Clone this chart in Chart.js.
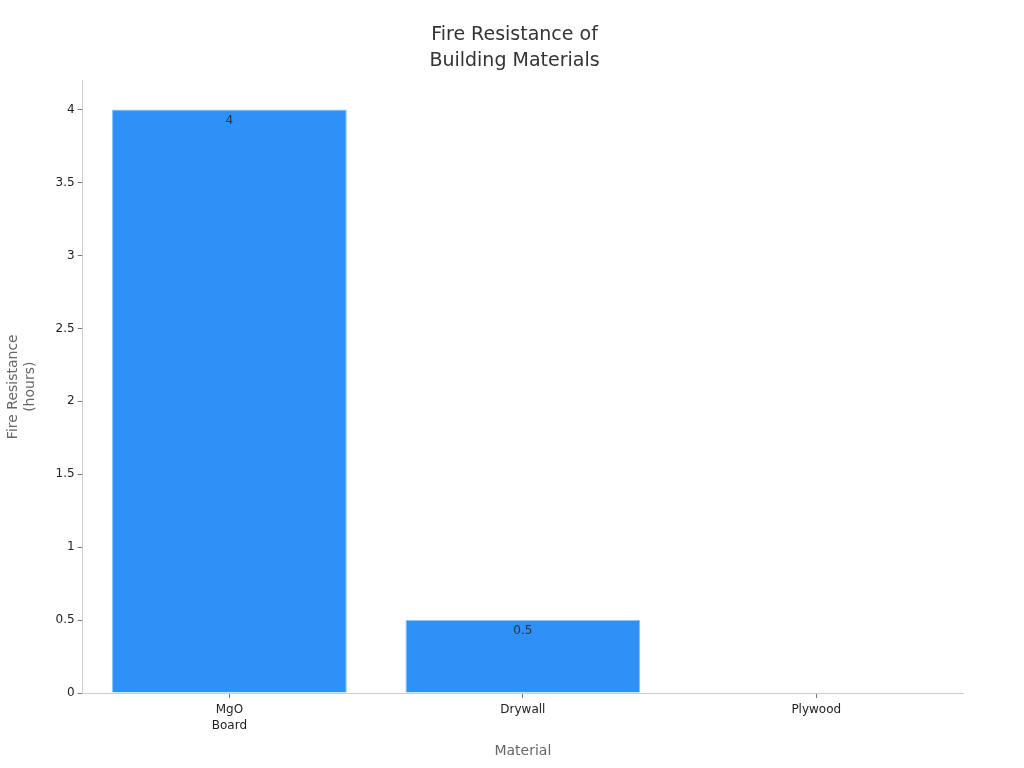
<!DOCTYPE html>
<html>
<head>
<meta charset="utf-8">
<script src="https://cdn.jsdelivr.net/npm/chart.js@4.4.1/dist/chart.umd.min.js"></script>
<style>
  html, body { margin: 0; padding: 0; background: #fff; }
  #wrap { width: 1024px; height: 768px; }
</style>
</head>
<body>
<div id="wrap"><canvas id="fireChart" width="1024" height="768"></canvas></div>
<script>
// chart data
const materials = [["MgO", "Board"], "Drywall", "Plywood"];
const fireHours = [4, 0.5, 0];
const yTicks = [0, 0.5, 1, 1.5, 2, 2.5, 3, 3.5, 4];

// value labels just under the top of each bar (skip empty bars)
const barLabels = {
  id: 'barLabels',
  afterDatasetsDraw(chart) {
    const ctx = chart.ctx;
    const meta = chart.getDatasetMeta(0);
    ctx.save();
    ctx.font = '12px "DejaVu Sans"';
    ctx.fillStyle = '#333';
    ctx.textAlign = 'center';
    ctx.textBaseline = 'top';
    meta.data.forEach((bar, i) => {
      const v = fireHours[i];
      if (!v) return;
      ctx.fillText(String(v), bar.x, bar.y + 5);
    });
    ctx.restore();
  }
};

const ctx = document.getElementById('fireChart').getContext('2d');
new Chart(ctx, {
  type: 'bar',
  data: {
    labels: materials,
    datasets: [{
      label: 'Fire Resistance (hours)',
      data: fireHours,
      backgroundColor: '#2e91f8',
      borderColor: '#8cc4fb',
      borderWidth: 1,
      barPercentage: 0.8,
      categoryPercentage: 1
    }]
  },
  options: {
    responsive: false,
    animation: false,
    layout: { padding: { top: 12, right: 0, bottom: 8, left: 5 } },
    plugins: {
      legend: { display: false },
      tooltip: { enabled: false },
      title: {
        display: true,
        text: ['Fire Resistance of', 'Building Materials'],
        color: '#333',
        font: { family: 'DejaVu Sans', size: 19, weight: 'normal', lineHeight: 1.38 },
        padding: { top: 10, bottom: 6 }
      }
    },
    scales: {
      x: {
        border: { color: '#ccc' },
        grid: { display: true, drawOnChartArea: false, offset: false, color: '#777', tickLength: 5 },
        ticks: { color: '#222', font: { family: 'DejaVu Sans', size: 12, lineHeight: 1.3 }, padding: 4 },
        title: {
          display: true,
          text: 'Material',
          color: '#666',
          font: { family: 'DejaVu Sans', size: 14 },
          padding: { top: 6, bottom: 0 }
        }
      },
      y: {
        min: 0,
        max: 4.2,
        border: { color: '#ccc' },
        grid: { display: true, drawOnChartArea: false, color: '#777', tickLength: 5 },
        afterBuildTicks(axis) {
          axis.ticks = yTicks.map(v => ({ value: v }));
        },
        ticks: {
          color: '#222',
          font: { family: 'DejaVu Sans', size: 12 },
          padding: 3,
          callback: v => String(v)
        },
        title: {
          display: true,
          text: ['Fire Resistance', '(hours)'],
          color: '#666',
          font: { family: 'DejaVu Sans', size: 14, lineHeight: 1.2 },
          padding: { top: 0, bottom: 14 }
        }
      },
      // empty right-hand spacer so the title stays centred on the page
      spacer: {
        type: 'linear',
        position: 'right',
        display: true,
        grid: { display: false },
        border: { display: false },
        ticks: { display: false },
        afterFit(axis) { axis.width = 61; }
      }
    }
  },
  plugins: [barLabels]
});
</script>
</body>
</html>
